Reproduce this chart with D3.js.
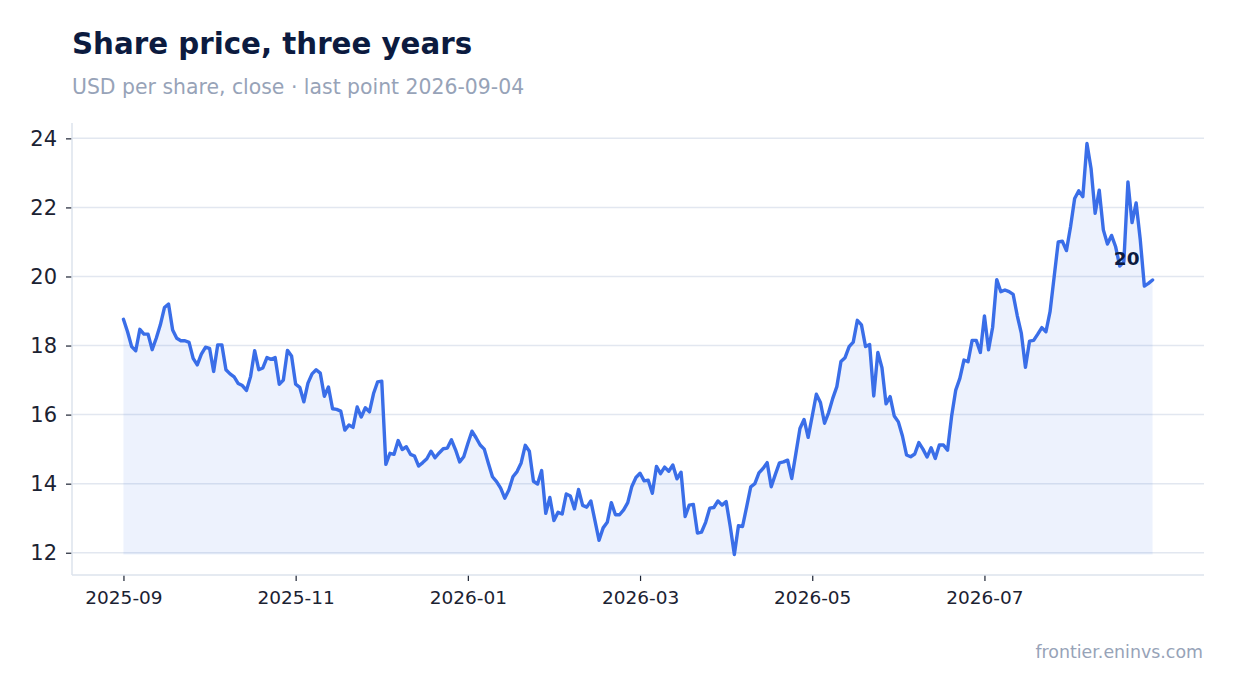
<!DOCTYPE html>
<html>
<head>
<meta charset="utf-8">
<script src="https://cdn.jsdelivr.net/npm/d3@7"></script>
<style>
  body { margin: 0; background: #fff; }
  svg text { font-family: "DejaVu Sans", sans-serif; }
</style>
</head>
<body>
<div id="chart"></div>
<script>
// closing prices, one per trading day
var closes = [
  18.76, 18.40, 17.97, 17.85, 18.47, 18.33, 18.33, 17.88, 18.21, 18.60,
  19.10, 19.20, 18.45, 18.21, 18.14, 18.14, 18.09, 17.63, 17.44, 17.75,
  17.95, 17.92, 17.25, 18.02, 18.02, 17.30, 17.18, 17.09, 16.90, 16.84,
  16.70, 17.10, 17.85, 17.30, 17.35, 17.65, 17.60, 17.65, 16.88, 17.00,
  17.86, 17.70, 16.88, 16.79, 16.37, 16.91, 17.18, 17.30, 17.20, 16.53,
  16.80, 16.17, 16.15, 16.10, 15.55, 15.70, 15.63, 16.22, 15.93, 16.20,
  16.08, 16.61, 16.95, 16.97, 14.56, 14.88, 14.85, 15.25, 14.99, 15.07,
  14.85, 14.80, 14.51, 14.61, 14.72, 14.94, 14.75, 14.89, 15.01, 15.03,
  15.27, 14.98, 14.63, 14.78, 15.16, 15.52, 15.33, 15.12, 15.00, 14.59,
  14.20, 14.06, 13.87, 13.58, 13.82, 14.20, 14.35, 14.60, 15.11, 14.94,
  14.07, 13.99, 14.38, 13.14, 13.60, 12.93, 13.17, 13.12, 13.70, 13.64,
  13.27, 13.83, 13.37, 13.32, 13.50, 12.93, 12.36, 12.72, 12.88, 13.45,
  13.10, 13.10, 13.24, 13.45, 13.92, 14.18, 14.30, 14.08, 14.10, 13.72,
  14.50, 14.29, 14.48, 14.36, 14.54, 14.14, 14.33, 13.05, 13.38, 13.40,
  12.57, 12.60, 12.88, 13.29, 13.31, 13.50, 13.38, 13.48, 12.76, 11.95,
  12.78, 12.76, 13.33, 13.91, 14.00, 14.31, 14.44, 14.61, 13.91, 14.27,
  14.60, 14.63, 14.68, 14.15, 14.87, 15.60, 15.86, 15.34, 15.96, 16.59,
  16.35, 15.75, 16.06, 16.47, 16.81, 17.54, 17.65, 17.97, 18.10, 18.73,
  18.60, 17.97, 18.03, 16.54, 17.80, 17.36, 16.31, 16.52, 15.96, 15.79,
  15.38, 14.83, 14.78, 14.86, 15.19, 15.00, 14.77, 15.04, 14.73, 15.12,
  15.12, 14.97, 15.96, 16.71, 17.05, 17.58, 17.53, 18.15, 18.15, 17.80,
  18.86, 17.88, 18.53, 19.91, 19.56, 19.61, 19.56, 19.48, 18.87, 18.35,
  17.37, 18.13, 18.15, 18.33, 18.52, 18.40, 18.98, 19.99, 21.00, 21.02,
  20.75, 21.44, 22.26, 22.48, 22.31, 23.85, 23.13, 21.83, 22.50, 21.35,
  20.94, 21.19, 20.86, 20.30, 20.43, 22.74, 21.56, 22.13, 21.07, 19.72,
  19.80, 19.90
];

// trading calendar
var firstDay = "2025-09-05",
  lastDay = "2026-09-04";
var holidays = [
  "2025-11-27", "2025-12-25", "2026-01-01", "2026-01-19", "2026-02-16",
  "2026-04-03", "2026-05-25", "2026-06-19", "2026-07-03"
];
var yTicks = [12, 14, 16, 18, 20, 22, 24];
var xTickEvery = 42; // one label every 42 sessions

var parse = d3.timeParse("%Y-%m-%d"),
  fmt = d3.timeFormat("%Y-%m-%d");
var dates = d3.timeDay
  .range(parse(firstDay), d3.timeDay.offset(parse(lastDay), 1))
  .filter(d => d.getDay() != 0 && d.getDay() != 6 && holidays.indexOf(fmt(d)) < 0);

var data = closes.map((v, i) => ({ i: i, date: dates[i], close: v }));

var width = 1234,
  height = 693;
var plot = { left: 72, right: 1204, top: 123, bottom: 575 };

var blue = "#3a6ee8",
  navy = "#0c1b3f",
  muted = "#97a3b8",
  grid = "#e2e7f0",
  ink = "#1b2232";

var svg = d3
  .select("#chart")
  .append("svg")
  .attr("width", width)
  .attr("height", height);

// 5% margins on both axes, like the original plot
var n = data.length - 1;
var x = d3
  .scaleLinear()
  .domain([-0.05 * n, n * 1.05])
  .range([plot.left, plot.right]);

var lo = d3.min(closes),
  hi = d3.max(closes),
  pad = (hi - lo) * 0.05;
var y = d3
  .scaleLinear()
  .domain([lo - pad, hi + pad])
  .range([plot.bottom, plot.top]);

// horizontal grid
svg
  .append("g")
  .selectAll("line")
  .data(yTicks)
  .enter()
  .append("line")
  .attr("x1", plot.left)
  .attr("x2", plot.right)
  .attr("y1", d => y(d))
  .attr("y2", d => y(d))
  .attr("stroke", grid)
  .attr("stroke-width", 1.5);

// area down to the lowest close
var area = d3
  .area()
  .x(d => x(d.i))
  .y0(y(lo))
  .y1(d => y(d.close));

svg
  .append("path")
  .datum(data)
  .attr("d", area)
  .attr("fill", blue)
  .attr("fill-opacity", 0.09);

var line = d3
  .line()
  .x(d => x(d.i))
  .y(d => y(d.close));

svg
  .append("path")
  .datum(data)
  .attr("d", line)
  .attr("fill", "none")
  .attr("stroke", blue)
  .attr("stroke-width", 3.4)
  .attr("stroke-linejoin", "round")
  .attr("stroke-linecap", "round");

// axes
var monthFmt = d3.timeFormat("%Y-%m");
var xTickIdx = d3.range(0, data.length, xTickEvery);

var xAxis = svg
  .append("g")
  .attr("transform", "translate(0," + plot.bottom + ")")
  .call(
    d3
      .axisBottom(x)
      .tickValues(xTickIdx)
      .tickFormat(i => monthFmt(dates[i]))
      .tickSize(6)
      .tickPadding(10)
  );

var yAxis = svg
  .append("g")
  .attr("transform", "translate(" + plot.left + ",0)")
  .call(
    d3
      .axisLeft(y)
      .tickValues(yTicks)
      .tickSize(6)
      .tickPadding(9)
  );

svg.selectAll(".domain").remove();
svg.selectAll(".tick line").attr("stroke", ink).attr("stroke-width", 1.2);
xAxis.selectAll("text").attr("fill", ink).style("font-size", "18.5px");
yAxis.selectAll("text").attr("fill", ink).style("font-size", "21px");

// light spines, left and bottom only
svg
  .append("line")
  .attr("x1", plot.left)
  .attr("x2", plot.left)
  .attr("y1", plot.top)
  .attr("y2", plot.bottom)
  .attr("stroke", "#dde3ed")
  .attr("stroke-width", 1.5);
svg
  .append("line")
  .attr("x1", plot.left)
  .attr("x2", plot.right)
  .attr("y1", plot.bottom)
  .attr("y2", plot.bottom)
  .attr("stroke", "#dde3ed")
  .attr("stroke-width", 1.5);

// last value label
var last = data[data.length - 1];
svg
  .append("text")
  .attr("x", x(last.i) - 13)
  .attr("y", y(last.close) - 15)
  .attr("text-anchor", "end")
  .attr("fill", navy)
  .style("font-size", "18.5px")
  .style("font-weight", "bold")
  .text(d3.format(".0f")(last.close));

// titles
svg
  .append("text")
  .attr("x", plot.left)
  .attr("y", 54)
  .attr("fill", navy)
  .style("font-size", "29.3px")
  .style("font-weight", "bold")
  .text("Share price, three years");

svg
  .append("text")
  .attr("x", plot.left)
  .attr("y", 94)
  .attr("fill", muted)
  .style("font-size", "20.4px")
  .text("USD per share, close · last point " + fmt(last.date));

svg
  .append("text")
  .attr("x", plot.right - 1)
  .attr("y", 658)
  .attr("text-anchor", "end")
  .attr("fill", muted)
  .style("font-size", "17.4px")
  .text("frontier.eninvs.com");
</script>
</body>
</html>
